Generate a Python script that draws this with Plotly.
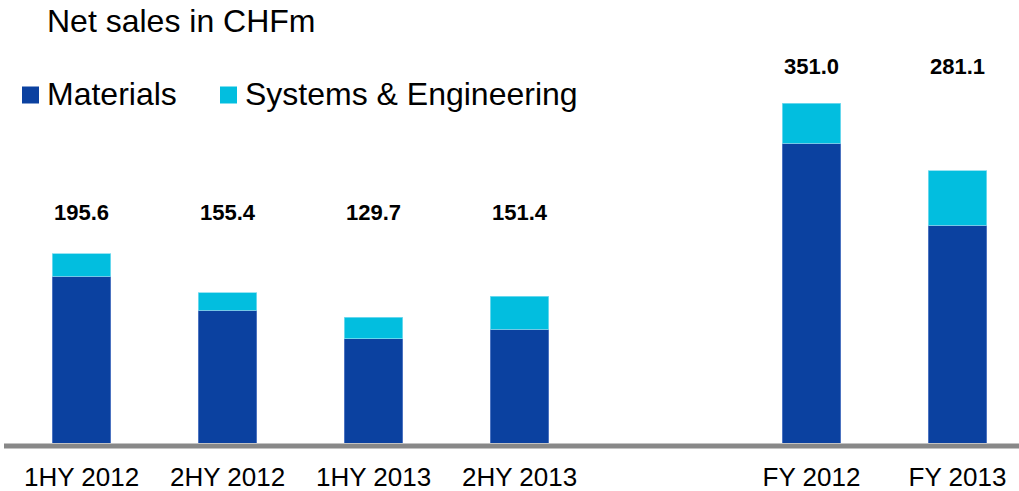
import plotly.graph_objects as go

# Net sales by segment, CHF million
periods = ["1HY 2012", "2HY 2012", "1HY 2013", "2HY 2013", "FY 2012", "FY 2013"]
materials = [172.5, 137.0, 107.5, 117.5, 309.5, 225.0]
systems_engineering = [23.1, 18.4, 22.2, 33.9, 41.5, 56.1]

# Slot positions on the x axis (slot 4 is left empty as a separator)
slots = [0, 1, 2, 3, 5, 6]

MAT_COLOR = "#0B41A0"
SE_COLOR = "#02BEDF"
FONT = "Liberation Sans, Arial, sans-serif"

W, H = 1019, 491
ML, MR, MT, MB = 4, 0, 0, 48
PW, PH = W - ML - MR, H - MT - MB


def px_x(px):
    return (px - ML) / PW


def px_y(py):
    return (MT + PH - py) / PH


fig = go.Figure()
fig.add_bar(x=slots, y=materials, name="Materials", marker_color=MAT_COLOR,
            marker_line=dict(color="#5C80C8", width=0.8), width=0.4)
fig.add_bar(x=slots, y=systems_engineering, name="Systems & Engineering",
            marker_color=SE_COLOR, marker_line=dict(color="#7FDDF0", width=0.8),
            width=0.4)

annotations = []
# Totals above each bar: half-year labels share one height, full-year another
for s, m, e in zip(slots, materials, systems_engineering):
    total = m + e
    label_py = 212 if s < 4 else 67
    annotations.append(dict(
        x=s, xref="x", y=px_y(label_py), yref="paper",
        text=f"<b>{total:.1f}</b>", showarrow=False,
        xanchor="center", yanchor="middle",
        font=dict(family=FONT, size=22, color="#000000")))

# Heading
annotations.append(dict(
    x=px_x(45), y=px_y(21), xref="paper", yref="paper",
    text="Net sales in CHFm", showarrow=False,
    xanchor="left", yanchor="middle",
    font=dict(family=FONT, size=32, color="#000000")))

# Legend drawn as swatches with labels
shapes = []
legend_items = [("Materials", MAT_COLOR, 22, 45),
                ("Systems & Engineering", SE_COLOR, 220, 243)]
for label, color, sq_x, txt_x in legend_items:
    shapes.append(dict(type="rect", xref="paper", yref="paper",
                       x0=px_x(sq_x), x1=px_x(sq_x + 17),
                       y0=px_y(103.5), y1=px_y(86.5),
                       fillcolor=color, line=dict(width=0)))
    annotations.append(dict(
        x=px_x(txt_x), y=px_y(94), xref="paper", yref="paper",
        text=label, showarrow=False, xanchor="left", yanchor="middle",
        font=dict(family=FONT, size=32, color="#000000")))

# Baseline under the bars
shapes.append(dict(type="line", xref="paper", yref="paper",
                   x0=px_x(4), x1=1, y0=px_y(446), y1=px_y(446),
                   line=dict(color="#888888", width=5)))

fig.update_layout(
    width=W, height=H,
    margin=dict(l=ML, r=MR, t=MT, b=MB),
    barmode="stack",
    showlegend=False,
    plot_bgcolor="white",
    paper_bgcolor="white",
    annotations=annotations,
    shapes=shapes,
    xaxis=dict(
        range=[-0.531, 6.421],
        tickvals=slots, ticktext=periods,
        showline=False, ticks="", showgrid=False, zeroline=False,
        tickfont=dict(family=FONT, size=26, color="#000000"),
        ticklabelstandoff=16,
    ),
    yaxis=dict(range=[0, 457.6], visible=False, showgrid=False,
               zeroline=False),
)

fig.write_html("out.html")
